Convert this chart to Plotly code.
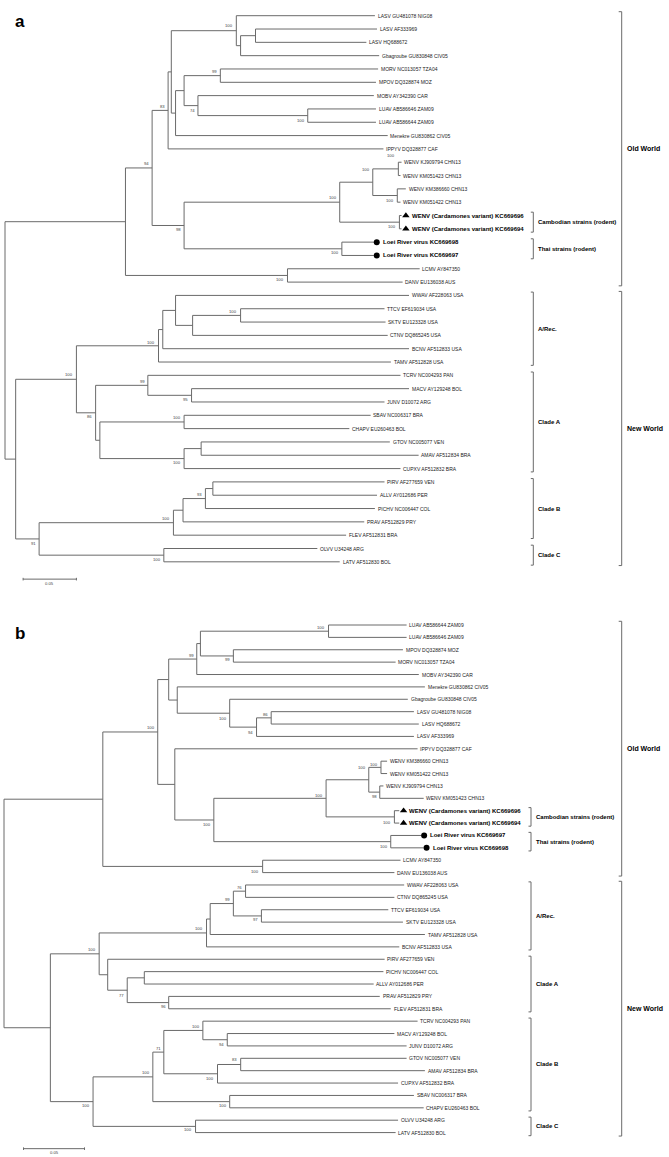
import plotly.graph_objects as go

W, H = 669, 1157

# ---------------------------------------------------------------------------
# DATA: phylogenetic trees.  Internal node = (depth, bootstrap, [children]);
# leaf = (name, depth).  Depth in substitutions/site measured from the root.
# ---------------------------------------------------------------------------
OLD_WORLD_A = (0.113, None, [
    (0.138, 94, [
        (0.153, 83, [
            (0.156, None, [
                (0.217, 100, [
                    ("LASV GU481078 NIG08", 0.347),
                    (0.221, None, [
                        (0.235, None, [("LASV AF333969", 0.349), ("LASV HQ688672", 0.339)]),
                        ("Gbagroube GU830848 CIV05", 0.351),
                    ]),
                ]),
                (0.160, None, [
                    (0.168, None, [
                        (0.202, 99, [("MORV NC013057 TZA04", 0.350), ("MPOV DQ328874 MOZ", 0.348)]),
                        (0.181, 74, [("MOBV AY342390 CAR", 0.346),
                                     (0.284, 100, [("LUAV AB586646 ZAM09", 0.348),
                                                   ("LUAV AB586644 ZAM09", 0.348)])]),
                    ]),
                    ("Menekre GU830862 CIV05", 0.359),
                ]),
            ]),
            ("IPPYV DQ328877 CAF", 0.355),
        ]),
        (0.168, 98, [
            (0.314, 100, [
                (0.345, 100, [
                    (0.369, 100, [("WENV KJ909794 CHN13", 0.372), ("WENV KM051423 CHN13", 0.371)]),
                    (0.368, 100, [("WENV KM386660 CHN13", 0.376), ("WENV KM051422 CHN13", 0.371)]),
                ]),
                (0.370, 100, [("WENV (Cardamones variant) KC669696", 0.372),
                              ("WENV (Cardamones variant) KC669694", 0.372)]),
            ]),
            (0.316, 100, [("Loei River virus KC669698", 0.346), ("Loei River virus KC669697", 0.346)]),
        ]),
    ]),
    (0.265, 100, [("LCMV AY847350", 0.389), ("DANV EU136038 AUS", 0.373)]),
])

NEW_WORLD_A = (0.010, None, [
    (0.067, 100, [
        (0.144, 100, [
            (0.148, None, [
                (0.160, None, [
                    ("WWAV AF228063 USA", 0.379),
                    (0.176, None, [
                        (0.221, 100, [("TTCV EF619034 USA", 0.356), ("SKTV EU123328 USA", 0.357)]),
                        ("CTNV DQ865245 USA", 0.359),
                    ]),
                ]),
                ("BCNV AF512833 USA", 0.379),
            ]),
            ("TAMV AF512828 USA", 0.362),
        ]),
        (0.085, 86, [
            (0.134, 99, [("TCRV NC004293 PAN", 0.371),
                         (0.175, 95, [("MACV AY129248 BOL", 0.379), ("JUNV D10072 ARG", 0.356)])]),
            (0.089, None, [
                (0.168, 100, [("SBAV NC006317 BRA", 0.343), ("CHAPV EU260463 BOL", 0.323)]),
                (0.168, 100, [(0.184, None, [("GTOV NC005077 VEN", 0.361), ("AMAV AF512834 BRA", 0.388)]),
                              ("CUPXV AF512832 BRA", 0.371)]),
            ]),
        ]),
    ]),
    (0.032, 91, [
        (0.158, 100, [
            (0.167, None, [
                (0.188, 93, [(0.195, None, [("PIRV AF277659 VEN", 0.356), ("ALLV AY012686 PER", 0.349)]),
                             ("PICHV NC006447 COL", 0.347)]),
                ("PRAV AF512829 PRY", 0.337),
            ]),
            ("FLEV AF512831 BRA", 0.320),
        ]),
        (0.149, 100, [("OLVV U34248 ARG", 0.293), ("LATV AF512830 BOL", 0.314)]),
    ]),
])

OLD_WORLD_B = (0.081, None, [
    (0.126, 100, [
        (0.135, None, [
            (0.158, 99, [
                (0.161, None, [
                    (0.266, 100, [("LUAV AB586644 ZAM09", 0.330), ("LUAV AB586646 ZAM09", 0.330)]),
                    (0.188, 99, [("MPOV DQ328874 MOZ", 0.327), ("MORV NC013057 TZA04", 0.321)]),
                ]),
                ("MOBV AY342390 CAR", 0.340),
            ]),
            (0.142, None, [
                ("Menekre GU830862 CIV05", 0.345),
                (0.185, 100, [
                    ("Gbagroube GU830848 CIV05", 0.331),
                    (0.207, 94, [(0.219, 86, [("LASV GU481078 NIG08", 0.336), ("LASV HQ688672", 0.340)]),
                                 ("LASV AF333969", 0.336)]),
                ]),
            ]),
        ]),
        (0.140, None, [
            ("IPPYV DQ328877 CAF", 0.339),
            (0.172, 100, [
                (0.264, 100, [
                    (0.299, 100, [
                        (0.309, 100, [("WENV KM386660 CHN13", 0.314), ("WENV KM051422 CHN13", 0.314)]),
                        (0.308, 98, [("WENV KJ909794 CHN13", 0.311), ("WENV KM051423 CHN13", 0.344)]),
                    ]),
                    (0.320, 100, [("WENV (Cardamones variant) KC669696", 0.324),
                                  ("WENV (Cardamones variant) KC669694", 0.324)]),
                ]),
                (0.317, 100, [("Loei River virus KC669697", 0.342), ("Loei River virus KC669698", 0.344)]),
            ]),
        ]),
    ]),
    (0.212, 100, [("LCMV AY847350", 0.325), ("DANV EU136038 AUS", 0.320)]),
])

NEW_WORLD_B = (0.038, None, [
    (0.078, 100, [
        (0.166, 100, [
            (0.169, None, [
                (0.188, 99, [(0.198, 76, [("WWAV AF228063 USA", 0.328), ("CTNV DQ865245 USA", 0.320)]),
                             (0.211, 97, [("TTCV EF619034 USA", 0.315), ("SKTV EU123328 USA", 0.327)])]),
                ("TAMV AF512828 USA", 0.345),
            ]),
            ("BCNV AF512833 USA", 0.324),
        ]),
        (0.085, None, [
            ("PIRV AF277659 VEN", 0.312),
            (0.101, 77, [(0.115, None, [("PICHV NC006447 COL", 0.311), ("ALLV AY012686 PER", 0.303)]),
                         (0.135, 96, [("PRAV AF512829 PRY", 0.308), ("FLEV AF512831 BRA", 0.317)])]),
        ]),
    ]),
    (0.073, 100, [
        (0.122, 100, [
            (0.131, 71, [
                (0.163, 100, [("TCRV NC004293 PAN", 0.339),
                              (0.183, 94, [("MACV AY129248 BOL", 0.320), ("JUNV D10072 ARG", 0.330)])]),
                (0.175, 100, [(0.194, 83, [("GTOV NC005077 VEN", 0.330), ("AMAV AF512834 BRA", 0.345)]),
                              ("CUPXV AF512832 BRA", 0.323)]),
            ]),
            (0.185, 100, [("SBAV NC006317 BRA", 0.336), ("CHAPV EU260463 BOL", 0.344)]),
        ]),
        (0.157, 100, [("OLVV U34248 ARG", 0.323), ("LATV AF512830 BOL", 0.321)]),
    ]),
])

CAMBODIAN = ["WENV (Cardamones variant) KC669696", "WENV (Cardamones variant) KC669694"]
THAI = ["Loei River virus KC669698", "Loei River virus KC669697"]

# clade brackets: (label, first leaf index, last leaf index)
GROUPS_A = [("Cambodian strains (rodent)", 15, 16), ("Thai strains (rodent)", 17, 18),
            ("A/Rec.", 21, 26), ("Clade A", 27, 34), ("Clade B", 35, 39), ("Clade C", 40, 41)]
GROUPS_B = [("Cambodian strains (rodent)", 15, 16), ("Thai strains (rodent)", 17, 18),
            ("A/Rec.", 21, 26), ("Clade A", 27, 31), ("Clade B", 32, 39), ("Clade C", 40, 41)]
OUTER_GROUPS = [("Old World", 0, 20), ("New World", 21, 41)]

SCALE_BAR = 0.05

# ---------------------------------------------------------------------------
# Styling / placement (pixels)
# ---------------------------------------------------------------------------
# vertical offset of each bootstrap label from its node, in pre-order
SUPPORT_DY_A = [-4.7, -4.4, -4.7, -4.6, 4.4, 4.4, 4.5, -4.2, -12.9, -13.8, 4.5, 4.5, 4.0, 4.5,
                -4.3, -3.5, -3.7, 3.9, -4.3, 4.0, -4.25, 4.1, 4.4, -4.4, -4.2, 3.9]
SUPPORT_DY_B = [-4, -4, -4, 4, 5, 5, -3, 5, -3, -12, -3, 4.6, 5.8, 5, 4.6,
                -4, -4, -4, -4, 4, 5, 4, 4, -4.6, -4, -4, 4.3, 4.5, -4.5, 4, 3.6]

PANELS = [
    dict(root=(0.0, None, [OLD_WORLD_A, NEW_WORLD_A]), dys=SUPPORT_DY_A, groups=GROUPS_A,
         root_px=5.0, ppu=1066.0, y0=15.7, sp=13.32, xa="x", ya="y",
         inner_px=533.3, outer_px=621.7, scale_x0=0.017, letter="a", letter_y=21),
    dict(root=(0.0, None, [OLD_WORLD_B, NEW_WORLD_B]), dys=SUPPORT_DY_B, groups=GROUPS_B,
         root_px=4.0, ppu=1220.0, y0=625.0, sp=12.38, xa="x2", ya="y2",
         inner_px=531.0, outer_px=621.7, scale_x0=0.016, letter="b", letter_y=633),
]

LINE_COLOR = "#6a6a6a"
TIP_FONT = dict(family="Liberation Sans Narrow, Arial Narrow, Liberation Sans, Arial", size=5.0, color="#222222")
BOLD_FONT = dict(family="Liberation Sans, Arial", size=6, color="#000000")
SUP_FONT = dict(family="Liberation Sans, Arial", size=4.2, color="#444444")

fig = go.Figure()
annotations = []
layout_axes = {}

for k, P in enumerate(PANELS):
    ppu, sp = P["ppu"], P["sp"]
    xa, ya = P["xa"], P["ya"]

    def px2x(px, P=P):
        return (px - P["root_px"]) / P["ppu"]

    leaves, sup = [], []
    lx, ly = [], []

    def rec(node, pdepth):
        if isinstance(node[0], str):
            name, d = node
            y = float(len(leaves))
            leaves.append((name, d, y))
            lx.extend([pdepth, d, None]); ly.extend([y, y, None])
            return y
        d, s, ch = node
        entry = None
        if s is not None:
            entry = [d, None, s]
            sup.append(entry)
        ys = [rec(c, d) for c in ch]
        y = (ys[0] + ys[-1]) / 2.0
        lx.extend([d, d, None]); ly.extend([ys[0], ys[-1], None])
        if pdepth is not None:
            lx.extend([pdepth, d, None]); ly.extend([y, y, None])
        if entry is not None:
            entry[1] = y
        return y

    rec(P["root"], None)

    # brackets
    bx, by = [], []
    tick_in, tick_out = 2.5 / ppu, 3.0 / ppu
    for (lab, i0, i1) in P["groups"]:
        xb = px2x(P["inner_px"])
        bx.extend([xb - tick_in, xb, xb, xb - tick_in, None])
        by.extend([i0 - 0.25, i0 - 0.25, i1 + 0.25, i1 + 0.25, None])
        annotations.append(dict(x=xb, y=(i0 + i1) / 2.0, xref=xa, yref=ya, text="<b>%s</b>" % lab,
                                showarrow=False, xanchor="left", yanchor="middle", xshift=2.5,
                                font=BOLD_FONT))
    for (lab, i0, i1) in OUTER_GROUPS:
        xb = px2x(P["outer_px"])
        bx.extend([xb - tick_out, xb, xb, xb - tick_out, None])
        by.extend([i0 - 0.3, i0 - 0.3, i1 + 0.28, i1 + 0.28, None])
        annotations.append(dict(x=xb, y=(i0 + i1) / 2.0, xref=xa, yref=ya, text="<b>%s</b>" % lab,
                                showarrow=False, xanchor="left", yanchor="middle", xshift=3,
                                font=dict(family="Liberation Sans, Arial", size=7, color="#000000")))

    # scale bar
    ysb = len(leaves) + 0.3
    sx0 = P["scale_x0"]
    sx1 = sx0 + SCALE_BAR
    tk = 1.3 / sp
    bx.extend([sx0, sx1, None, sx0, sx0, None, sx1, sx1, None])
    by.extend([ysb, ysb, None, ysb - tk, ysb + tk, None, ysb - tk, ysb + tk, None])
    annotations.append(dict(x=(sx0 + sx1) / 2, y=ysb + 4.0 / sp, xref=xa, yref=ya, text="0.05",
                            showarrow=False, xanchor="center", yanchor="middle",
                            font=dict(family="Liberation Sans, Arial", size=4.2, color="#444444")))

    fig.add_trace(go.Scatter(x=lx + bx, y=ly + by, mode="lines", xaxis=xa, yaxis=ya,
                             line=dict(color=LINE_COLOR, width=1), hoverinfo="skip"))

    # bootstrap labels
    for (d, y, s), dy in zip(sup, P["dys"]):
        annotations.append(dict(x=d, y=y + dy / sp, xref=xa, yref=ya, text=str(s), showarrow=False,
                                xanchor="right", yanchor="middle", xshift=-1.2, font=SUP_FONT))

    # tip labels and markers
    tri_x, tri_y, cir_x, cir_y = [], [], [], []
    for name, d, y in leaves:
        if name in CAMBODIAN:
            tri_x.append(d + 4.3 / ppu); tri_y.append(y)
            annotations.append(dict(x=d, y=y, xref=xa, yref=ya, text="<b>%s</b>" % name, showarrow=False,
                                    xanchor="left", yanchor="middle", xshift=8.2, font=BOLD_FONT))
        elif name in THAI:
            cir_x.append(d + 2.9 / ppu); cir_y.append(y)
            annotations.append(dict(x=d, y=y, xref=xa, yref=ya, text="<b>%s</b>" % name, showarrow=False,
                                    xanchor="left", yanchor="middle", xshift=7.2, font=BOLD_FONT))
        else:
            annotations.append(dict(x=d, y=y, xref=xa, yref=ya, text=name, showarrow=False,
                                    xanchor="left", yanchor="middle", xshift=0.8, font=TIP_FONT))
    fig.add_trace(go.Scatter(x=tri_x, y=tri_y, mode="markers", xaxis=xa, yaxis=ya, hoverinfo="skip",
                             marker=dict(symbol="triangle-up", size=6.5, color="black")))
    fig.add_trace(go.Scatter(x=cir_x, y=cir_y, mode="markers", xaxis=xa, yaxis=ya, hoverinfo="skip",
                             marker=dict(symbol="circle", size=6, color="black")))

    # panel letter
    annotations.append(dict(x=13 / W, y=1 - P["letter_y"] / H, xref="paper", yref="paper",
                            text="<b>%s</b>" % P["letter"], showarrow=False, xanchor="left",
                            yanchor="middle", font=dict(family="Liberation Sans, Arial", size=17,
                                                        color="black")))

    xr = [(0 - P["root_px"]) / ppu, (W - P["root_px"]) / ppu]
    yr = [(H - P["y0"]) / sp, (0 - P["y0"]) / sp]
    suffix = "" if k == 0 else "2"
    xd = dict(domain=[0, 1], range=xr, visible=False, fixedrange=True)
    yd = dict(domain=[0, 1], range=yr, visible=False, fixedrange=True)
    if k == 1:
        xd.update(overlaying="x", anchor="y2")
        yd.update(overlaying="y", anchor="x2")
    layout_axes["xaxis" + suffix] = xd
    layout_axes["yaxis" + suffix] = yd

fig.update_layout(width=W, height=H, margin=dict(l=0, r=0, t=0, b=0), autosize=False,
                  paper_bgcolor="white", plot_bgcolor="white", showlegend=False,
                  annotations=annotations, **layout_axes)

fig.write_html("out.html", config={"displayModeBar": False},
               post_script="document.body.style.margin='0';document.body.style.overflow='hidden';")
